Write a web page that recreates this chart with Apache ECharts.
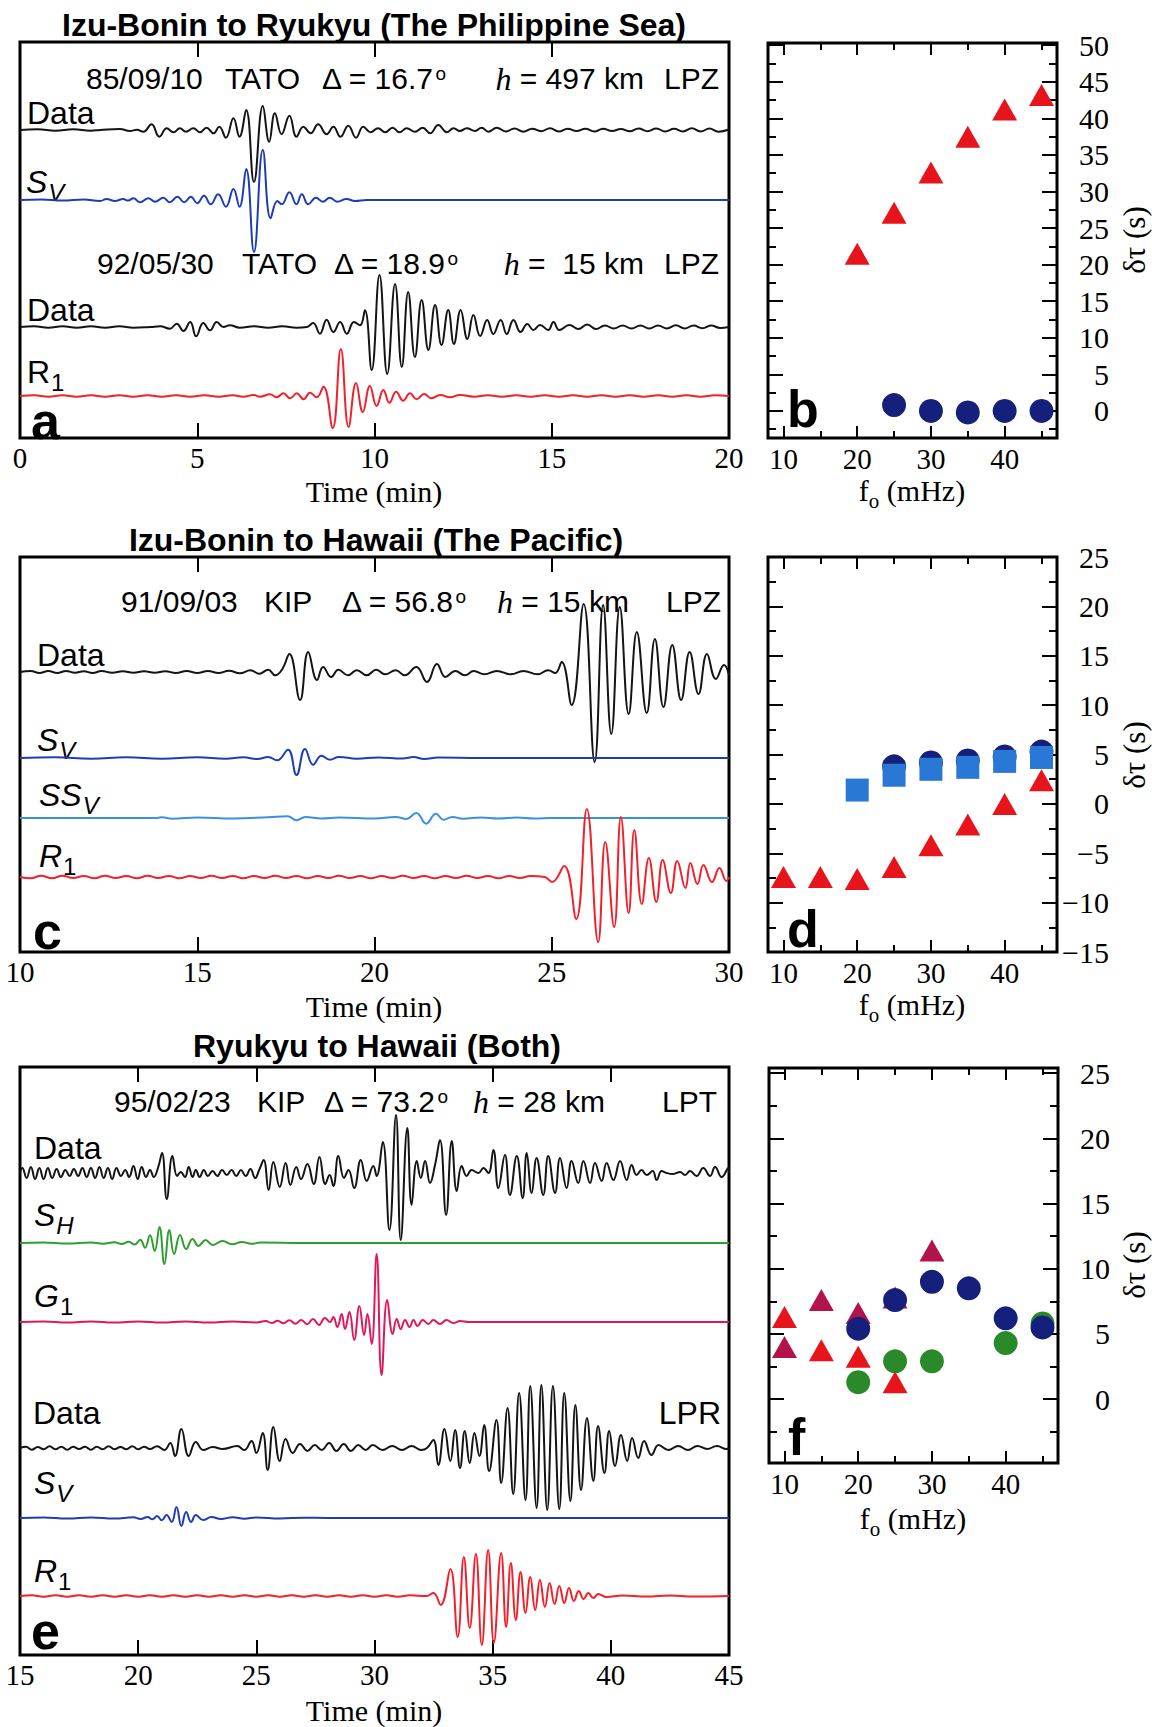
<!DOCTYPE html>
<html>
<head>
<meta charset="utf-8">
<script src="https://cdn.jsdelivr.net/npm/echarts@6/dist/echarts.min.js"></script>
<style>
  html, body { margin: 0; padding: 0; background: #fff; }
  #chart { width: 1152px; height: 1727px; }
</style>
</head>
<body>
<div id="chart"></div>
<script>
// ---------------- Axis tick values ----------------
const timeTicksA = [0, 5, 10, 15, 20];
const timeTicksC = [10, 15, 20, 25, 30];
const timeTicksE = [15, 20, 25, 30, 35, 40, 45];
const freqTicks = [10, 20, 30, 40];
const freqMinorTicks = [15, 25, 35, 45];
const delayTicksB = [0, 5, 10, 15, 20, 25, 30, 35, 40, 45, 50];
const delayMinorB = [-2.5, 2.5, 7.5, 12.5, 17.5, 22.5, 27.5, 32.5, 37.5, 42.5, 47.5];
const delayTicksD = [-15, -10, -5, 0, 5, 10, 15, 20, 25];
const delayMinorD = [-12.5, -7.5, -2.5, 2.5, 7.5, 12.5, 17.5, 22.5];
const delayTicksF = [-5, 0, 5, 10, 15, 20, 25];
const delayMinorF = [-2.5, 2.5, 7.5, 12.5, 17.5, 22.5];

// ---------------- Seismograms: [time (min), amplitude] turning points ----------------
// Izu-Bonin to Ryukyu, 85/09/10 TATO LPZ
const traceA_data1 = [[0,0],[0.5,0.7],[1.0,-0.7],[1.5,0.7],[2.0,-0.7],[2.26,0],[2.82,1],[3.1,-1],[3.3,0.3],[3.48,-1.7],[3.71,5.7],[3.93,-6.7],[4.14,1.7],[4.33,-2.3],[4.51,1.7],[4.68,-1.7],[4.89,1.7],[5.08,-2.3],[5.26,2.3],[5.46,-3.3],[5.62,3.3],[5.81,-7.7],[6.02,11.7],[6.19,-6.7],[6.38,20],[6.6,-52],[6.85,24],[7.03,-11.7],[7.19,16.7],[7.38,-4.3],[7.6,14.3],[7.8,-6.7],[7.99,3.3],[8.2,-3.3],[8.41,5.7],[8.65,-4.3],[8.84,3.3],[9.04,-6.7],[9.26,4.3],[9.48,-7.7],[9.68,3.3],[9.89,-2.3],[10.1,1.7],[10.3,-2.3],[10.51,2.3],[10.7,-2.3],[10.91,1.7],[11.14,-1.7],[11.36,2.3],[11.57,-3.3],[11.8,5],[12.04,-2.3],[12.23,1.7],[12.41,-1],[12.6,1.7],[12.84,-1],[13.02,2.3],[13.21,-1.7],[13.45,2.3],[13.7,-1.5],[13.95,1.5],[14.2,-1.7],[14.45,1.3],[14.7,-1.2],[14.95,1.7],[15.2,-1.5],[15.45,1.3],[15.7,-1],[15.95,1.2],[16.2,-1.5],[16.45,1.3],[16.7,-1],[16.95,1],[17.2,-1.3],[17.45,1.5],[17.7,-1.2],[17.95,1.5],[18.2,-1.5],[18.45,1.2],[18.7,-1.5],[18.95,1.7],[19.2,-1.5],[19.45,1.5],[19.7,-1.7],[20,0.5]];
const traceA_sv = [[0,0],[0.6,0.5],[1.2,-0.5],[1.8,0.5],[2.26,-1],[2.44,1],[2.68,-1],[2.91,1],[3.05,-0.5],[3.2,1.7],[3.39,-2.3],[3.62,1.7],[3.81,-1.7],[4.04,2.3],[4.23,-2.3],[4.44,3.3],[4.63,-2.3],[4.82,3.3],[5.0,-3.3],[5.19,4.3],[5.38,-4.3],[5.59,5.7],[5.81,-6.7],[6.02,11],[6.19,-6.7],[6.38,31],[6.6,-52],[6.85,50],[7.07,-18.3],[7.26,-1],[7.38,-4.3],[7.6,7.7],[7.8,-4.3],[7.95,5.7],[8.13,-4.3],[8.35,2.3],[8.54,-1.7],[8.74,2.3],[8.95,-1.7],[9.21,1],[9.45,-1],[9.78,0],[20,0]];
// 92/05/30 TATO LPZ
const traceA_data2 = [[0,0],[0.4,0.7],[0.8,-0.7],[1.2,0.7],[1.6,-0.7],[2.0,0.7],[2.4,-0.7],[2.8,0.7],[3.2,-0.7],[3.67,0],[3.95,0.7],[4.23,-1.7],[4.42,3.3],[4.61,-4],[4.8,5],[4.97,-9.3],[5.17,4],[5.36,-3.3],[5.55,5],[5.74,0],[5.92,1.7],[6.2,-0.7],[6.6,0.7],[7.0,-0.7],[7.4,0.7],[7.8,-0.7],[8.09,0],[8.27,4],[8.46,-6.7],[8.65,7.3],[8.84,-5],[9.03,5],[9.22,-6.7],[9.42,5],[9.59,1.7],[9.73,16.7],[9.92,-43],[10.14,52],[10.36,-47],[10.58,43],[10.77,-40],[10.95,35],[11.14,-30],[11.33,27],[11.52,-23],[11.71,22],[11.89,-18],[12.08,17],[12.24,-17],[12.43,17],[12.62,-12],[12.79,12],[12.98,-9],[13.18,7],[13.35,-7],[13.56,7],[13.73,-7],[13.92,7],[14.12,-5],[14.31,3],[14.48,-3],[14.67,2],[14.9,-3],[15.05,5],[15.21,-3],[15.5,2],[15.75,-2],[16.0,2.5],[16.25,-2],[16.5,1.5],[16.75,-1.5],[17.0,1.5],[17.25,-1.5],[17.5,1.5],[17.75,-1.5],[18.0,1.5],[18.25,-1.5],[18.5,1.7],[18.75,-1.5],[19.0,1.5],[19.25,-1.2],[19.5,1.5],[19.75,-1],[20,0]];
const traceA_r1 = [[0,0],[0.4,0.7],[0.8,-0.7],[1.2,0.7],[1.6,-0.7],[2.0,0.7],[2.4,-0.7],[2.8,0.7],[3.2,-0.7],[3.6,0.7],[4.0,-0.7],[4.4,0.7],[4.8,-0.7],[5.2,0.7],[5.6,-0.7],[6.0,0.7],[6.3,-0.7],[6.59,1],[6.77,-0.7],[7.05,1.7],[7.24,-1.3],[7.43,2.7],[7.62,-2.3],[7.81,2.7],[8.0,-3.3],[8.18,3.3],[8.37,-1.3],[8.56,9.3],[8.82,-32],[9.05,47],[9.27,-31],[9.48,13],[9.67,-16],[9.87,10],[10.06,-10],[10.25,6],[10.42,-6.7],[10.61,4.3],[10.81,-4.7],[11.0,2.7],[11.19,-3.3],[11.4,2],[11.61,-2.3],[11.85,1],[12.13,-1.3],[12.41,1],[12.8,-0.7],[13.2,0.7],[13.6,-0.7],[14.0,0.7],[14.4,-0.7],[14.8,0.7],[15.2,-0.7],[15.6,0.7],[16.0,-0.7],[16.4,0.7],[16.8,-0.7],[17.2,0.7],[17.6,-0.7],[18.0,0.7],[18.4,-0.7],[18.8,0.7],[19.2,-0.7],[19.6,0.7],[20,0]];

// Izu-Bonin to Hawaii, 91/09/03 KIP LPZ
const traceC_data = [[10,0],[10.3,1],[10.55,-1],[10.8,1],[11.05,-1],[11.3,1],[11.55,-0.7],[11.8,0.7],[12.05,-1],[12.3,1],[12.6,-0.7],[12.9,0.7],[13.2,-0.7],[13.5,0.7],[13.8,-0.7],[14.1,0.7],[14.4,-1],[14.7,1],[15,-1],[15.3,1],[15.6,-1],[15.9,1.3],[16.2,-1.3],[16.5,1.7],[16.75,-1.7],[17.0,2.3],[17.2,-3.3],[17.4,3],[17.6,18],[17.9,-28],[18.13,20],[18.38,-8],[18.55,5],[18.78,-5],[18.98,2.3],[19.25,-3.3],[19.5,1.7],[19.78,-3.3],[20.05,2.3],[20.3,-2.3],[20.6,1.7],[20.85,-3.3],[21.18,5],[21.48,-10],[21.76,8],[22.0,-5],[22.28,1],[22.55,-3.3],[22.8,1],[23.1,-2.3],[23.45,1],[23.85,-2.3],[24.2,1],[24.6,-2.3],[24.9,1.7],[25.1,-1],[25.28,10],[25.56,-33],[25.9,68],[26.21,-90],[26.45,67],[26.68,-62],[26.92,65],[27.17,-42],[27.4,40],[27.68,-41],[27.91,33],[28.15,-35],[28.4,27],[28.65,-28],[28.89,20],[29.14,-22],[29.38,18],[29.63,-7],[29.86,7],[30,-3]];
const traceC_sv = [[10,0],[11,0.7],[12,-0.7],[13,0.7],[14,-0.7],[15,0.7],[15.8,-0.7],[16.3,0.7],[16.7,-1],[17.0,1],[17.25,-2.3],[17.56,8.3],[17.8,-17],[18.04,9],[18.27,-6.7],[18.5,2.3],[18.74,-1.7],[19.0,1],[19.5,-0.7],[20.1,0.5],[20.8,-0.5],[21.1,1],[21.4,-1],[21.8,0.5],[23,0],[30,0]];
const traceC_ssv = [[10,0],[13.8,0],[14.0,0.7],[14.3,-0.7],[15,0.5],[16,-0.5],[17,0.7],[17.55,1.7],[17.8,-2.3],[18.05,1],[18.5,-0.5],[19,0.5],[20,-0.5],[20.6,1],[20.9,-1],[21.18,5],[21.46,-5.7],[21.73,4.3],[21.95,-1.7],[22.2,1],[22.5,-0.7],[23,0.5],[23.5,-0.5],[24,0.5],[24.5,-0.5],[25,0],[30,0]];
const traceC_r1 = [[10,0],[10.3,-1.3],[10.6,1.3],[10.9,-1.3],[11.2,1.3],[11.5,-1],[11.8,1],[12.1,-1.3],[12.4,1.3],[12.7,-1],[13,1],[13.3,-1.3],[13.6,1.3],[13.9,-1],[14.2,1],[14.5,-1.3],[14.8,1],[15.1,-1],[15.4,1.3],[15.7,-1],[16,1],[16.3,-1.3],[16.6,1],[16.9,-1],[17.2,1.3],[17.5,-1],[17.8,1],[18.1,-1.3],[18.4,1],[18.7,-1],[19,1.3],[19.3,-1],[19.6,1],[19.9,-1.3],[20.2,1],[20.5,-1],[20.8,1.3],[21.1,-1],[21.4,1],[21.7,-1.3],[22,1],[22.3,-1],[22.6,1.3],[22.9,-1],[23.2,1],[23.5,-1.3],[23.8,1],[24.1,-1],[24.4,1],[24.8,0],[25.01,-5],[25.35,11],[25.69,-42],[25.99,68],[26.31,-65],[26.51,35],[26.76,-50],[26.95,60],[27.17,-36],[27.33,47],[27.54,-27],[27.74,19],[27.95,-25],[28.13,17],[28.36,-16],[28.54,16],[28.77,-11],[28.91,14],[29.11,-7],[29.28,12],[29.52,-5],[29.73,9],[29.93,-4],[30,0]];

// Ryukyu to Hawaii, 95/02/23 KIP LPT
const traceE_dataT = [[15.0,0],[15.1,5],[15.28,-5],[15.46,6],[15.64,-6],[15.82,5],[16.0,-6],[16.18,5],[16.36,-5],[16.55,4],[16.73,-4],[16.92,3],[17.1,-3],[17.28,4],[17.46,-3],[17.64,5],[17.82,-4],[18.0,5],[18.18,-5],[18.36,6],[18.54,-5],[18.72,5],[18.9,-6],[19.08,5],[19.27,-3],[19.45,3],[19.62,-4],[19.8,7],[19.98,-6],[20.15,6],[20.33,-4],[20.5,3],[20.66,-4],[20.85,6],[21.01,20],[21.21,-26],[21.45,17],[21.65,-3],[21.8,1],[21.98,-4],[22.14,6],[22.3,-4],[22.44,3],[22.6,-4],[22.78,3],[22.95,-3],[23.15,2],[23.35,-3],[23.55,3],[23.75,-2],[23.95,3],[24.15,-3],[24.35,3],[24.55,-3],[24.75,4],[24.95,-5],[25.12,3],[25.31,13],[25.52,-17],[25.72,11],[25.99,-14],[26.24,10],[26.44,-12],[26.69,6],[26.89,-6],[27.16,9],[27.43,-11],[27.67,16],[27.92,-11],[28.1,-2],[28.26,-13],[28.47,17],[28.71,-5],[28.9,3],[29.14,-15],[29.42,13],[29.67,-8],[29.95,7],[30.09,-3],[30.35,31],[30.63,-57],[30.91,58],[31.11,-67],[31.39,45],[31.57,-32],[31.79,12],[31.96,-5],[32.14,12],[32.35,-10],[32.56,8],[32.77,33],[33.03,-42],[33.27,32],[33.48,-18],[33.69,7],[33.9,-3],[34.11,3],[34.4,0],[34.61,5],[34.82,0],[35.03,23],[35.24,-15],[35.52,18],[35.73,-22],[36.02,17],[36.27,-25],[36.44,20],[36.65,-20],[36.86,15],[37.14,-22],[37.35,17],[37.64,-20],[37.85,15],[38.13,-15],[38.34,12],[38.62,-10],[38.84,12],[39.12,-10],[39.33,10],[39.61,-8],[39.82,10],[40.11,-7],[40.39,12],[40.67,-7],[40.88,8],[41.09,-2],[41.3,3],[41.52,-2],[41.77,2],[41.94,-7],[42.15,2],[42.36,0],[42.64,-1],[42.93,1],[43.14,-2],[43.35,2],[43.63,-3],[43.91,5],[44.2,-3],[44.41,6],[44.69,-4],[44.97,5],[45,0]];
const traceE_sh = [[15,0],[16,0.5],[17,-0.5],[18,0.5],[18.5,-0.7],[19,0.7],[19.3,-1],[19.6,1.3],[19.85,-1.5],[20.09,3.3],[20.29,-4.7],[20.5,7.7],[20.7,-8],[20.9,16],[21.11,-21],[21.32,13],[21.52,-11],[21.77,8],[22.03,-6],[22.3,4],[22.55,-3],[22.85,3],[23.16,-2],[23.57,2],[23.98,-1.3],[24.39,1],[24.8,-0.7],[25.2,0.5],[27,0],[45,0]];
const traceE_g1 = [[15,0],[16,0.5],[17,-0.5],[18,0.5],[19,-0.5],[20,0.5],[21,-0.5],[22,0.5],[23,-0.5],[24,0.5],[25,-0.5],[25.4,1],[25.65,-1],[25.9,1.3],[26.15,-1.3],[26.4,1.7],[26.65,-1.7],[26.9,2],[27.15,-2.3],[27.4,3],[27.65,-3],[27.9,4],[28.12,0],[28.26,5],[28.43,-5],[28.61,8],[28.75,-7],[28.94,10],[29.14,-18],[29.36,16],[29.56,-13],[29.7,8],[29.88,-22],[30.09,68],[30.3,-53],[30.54,22],[30.77,-12],[30.94,3],[31.11,-7],[31.29,2],[31.48,-5],[31.65,2],[31.82,-4],[32.04,2],[32.28,-2],[32.49,2],[32.77,-2],[33.05,2],[33.34,-1],[33.62,1],[34,0],[45,0]];
// 95/02/23 KIP LPR
const traceE_dataR = [[15,0],[15.25,1.3],[15.5,-1.7],[15.75,1],[16,-1.3],[16.25,1.7],[16.5,-1.3],[16.75,1.3],[17,-1.7],[17.25,1.3],[17.5,-1],[17.75,1.3],[18,-1.7],[18.25,1.3],[18.5,-1.3],[18.75,1.7],[19,-1.3],[19.25,1],[19.5,-1.3],[19.75,1.7],[20,-1.3],[20.25,1.3],[20.5,-1],[20.8,1.7],[21.11,-2],[21.36,5],[21.56,-8],[21.83,19],[22.14,-8],[22.44,6],[22.75,-2],[23.16,1],[23.57,-1],[24.19,2],[24.49,-2],[24.8,7],[25.0,-5],[25.27,15],[25.48,-22],[25.72,21],[25.99,-13],[26.24,9],[26.54,-5],[26.85,4],[27.16,-3],[27.47,3],[27.77,-2],[28.08,5],[28.39,-3],[28.7,4],[29.0,-3],[29.31,3],[29.62,-2],[29.93,3],[30.34,-2],[30.75,2],[31.16,-2],[31.57,2],[31.98,-2],[32.22,0],[32.49,8],[32.7,-17],[32.96,19],[33.21,-13],[33.41,18],[33.62,-20],[33.82,17],[34.03,-15],[34.23,15],[34.44,-8],[34.64,23],[34.85,-23],[35.16,28],[35.36,-35],[35.63,40],[35.87,-46],[36.12,55],[36.39,-52],[36.59,62],[36.86,-60],[37.06,63],[37.31,-62],[37.55,62],[37.82,-61],[38.03,55],[38.29,-53],[38.5,43],[38.74,-42],[38.99,30],[39.26,-33],[39.46,22],[39.73,-25],[39.93,17],[40.18,-18],[40.43,13],[40.69,-13],[40.9,10],[41.16,-10],[41.41,7],[41.72,-7],[42.02,3],[42.43,-2],[42.85,2],[43.26,-2],[43.66,2],[44.08,-1],[44.49,2],[44.9,-1],[45,0]];
const traceE_sv = [[15,0],[16,0.5],[17,-0.5],[18,0.5],[19,-0.5],[19.8,0.7],[20.1,-1],[20.4,1],[20.6,-1.3],[20.8,2],[21.0,-2.3],[21.2,3],[21.42,-4],[21.62,11],[21.83,-8],[22.03,6],[22.24,-4],[22.44,3],[22.75,-2],[23.1,1],[23.5,-1],[24.0,0.7],[24.5,-0.7],[25,0.5],[26,-0.5],[27,0.3],[28,0],[45,0]];
const traceE_r1 = [[15,0],[15.5,0.7],[16,-0.7],[16.5,0.7],[17,-0.7],[17.5,0.7],[18,-0.7],[18.5,0.7],[19,-0.7],[19.5,0.7],[20,-0.7],[20.5,0.7],[21,-0.7],[21.5,0.7],[22,-0.7],[22.5,0.7],[23,-0.7],[23.5,0.7],[24,-0.7],[24.5,0.7],[25,-0.7],[25.5,0.7],[26,-0.7],[26.5,0.7],[27,-0.7],[27.5,0.7],[28,-0.7],[28.5,0.7],[29,-0.7],[29.5,0.7],[30,-0.7],[30.5,0.7],[31,-0.7],[31.5,0.7],[32.2,0],[32.49,3],[32.8,-9],[33.21,27],[33.52,-41],[33.78,39],[34.03,-32],[34.29,42],[34.54,-49],[34.81,46],[35.05,-47],[35.36,43],[35.57,-31],[35.77,33],[35.98,-24],[36.18,24],[36.39,-17],[36.59,19],[36.8,-14],[37.0,16],[37.21,-11],[37.41,13],[37.62,-8],[37.82,10],[38.03,-7],[38.23,8],[38.44,-5],[38.64,5],[38.85,-3],[39.05,3],[39.26,-2],[39.46,2],[39.8,-1],[40.5,0.5],[41.5,-0.5],[42.5,0.5],[43.5,-0.5],[45,0]];

// ---------------- Delay measurements: f0 (mHz) vs delta-tau (s) ----------------
const freqB_R1 = [20, 25, 30, 35, 40, 45];
const delayB_R1 = [21.5, 27.1, 32.6, 37.5, 41.2, 43.2];
const freqB_SV = [25, 30, 35, 40, 45];
const delayB_SV = [0.8, 0, -0.2, 0, 0];

const freqD_R1 = [10, 15, 20, 25, 30, 35, 40, 45];
const delayD_R1 = [-7.4, -7.4, -7.6, -6.4, -4.2, -2.1, 0, 2.4];
const freqD_SV = [25, 30, 35, 40, 45];
const delayD_SV = [3.8, 4.2, 4.4, 4.8, 5.3];
const freqD_SSV = [20, 25, 30, 35, 40, 45];
const delayD_SSV = [1.4, 2.9, 3.5, 3.7, 4.3, 4.7];

const freqF_G1 = [10, 15, 20, 25, 30];
const delayF_G1 = [4.0, 7.6, 6.6, 7.8, 11.4];
const freqF_SH = [20, 25, 30, 40, 45];
const delayF_SH = [1.3, 2.9, 2.9, 4.3, 5.8];
const freqF_SV = [20, 25, 30, 35, 40, 45];
const delayF_SV = [5.4, 7.6, 9.0, 8.5, 6.2, 5.5];
const freqF_R1 = [10, 15, 20, 25];
const delayF_R1 = [6.3, 3.75, 3.25, 1.3];

// ---------------- Layout ----------------
const SANS = 'Liberation Sans';
const SERIF = 'Liberation Serif';
const boxes = {
  a: { left: 20, top: 42, width: 709, height: 396 },
  b: { left: 768, top: 43, width: 289, height: 395 },
  c: { left: 20, top: 557, width: 709, height: 395 },
  d: { left: 768, top: 557, width: 289, height: 395 },
  e: { left: 20, top: 1067, width: 709, height: 588 },
  f: { left: 769, top: 1068, width: 289, height: 395 }
};
const COLORS = {
  data: '#141414', sv: '#1e3db5', ssv: '#3a8fe6', r1: '#f2202a', sh: '#2e9e2e', g1: '#e0185a',
  tri: '#e8141c', navy: '#151f7c', square: '#2a78d6', green: '#2a8a2a', crimson: '#b3134b'
};

const grids = [], xAxes = [], yAxes = [], series = [], graphics = [];

function addGrid(box) {
  grids.push({ left: box.left, top: box.top, width: box.width, height: box.height,
    show: true, borderColor: '#000', borderWidth: 3, backgroundColor: 'transparent',
    containLabel: false, outerBoundsMode: 'none' });
  return grids.length - 1;
}
// typographic minus for negative tick labels
const minusFmt = v => String(v).replace('-', '\u2212');
function tickAxis(kind, gi, pos, min, max, ticks, len, labels) {
  const ax = {
    type: 'value', gridIndex: gi, position: pos, min: min, max: max,
    axisLine: { show: false, onZero: false }, splitLine: { show: false },
    axisTick: { show: true, inside: true, length: len, customValues: ticks, lineStyle: { color: '#000', width: 2 } },
    axisLabel: labels ? Object.assign({ show: true, customValues: ticks, color: '#000',
      fontFamily: SERIF, fontSize: 29, formatter: minusFmt }, labels) : { show: false }
  };
  (kind === 'x' ? xAxes : yAxes).push(ax);
  return (kind === 'x' ? xAxes : yAxes).length - 1;
}

function wavePanel(box, tmin, tmax, ticks) {
  const gi = addGrid(box);
  const inner = ticks.filter(v => v > tmin && v < tmax);
  const xi = tickAxis('x', gi, 'bottom', tmin, tmax, ticks, 15, { margin: 5 });
  xAxes[xi].axisTick.customValues = inner;
  tickAxis('x', gi, 'top', tmin, tmax, inner, 15, null);
  yAxes.push({ type: 'value', gridIndex: gi, min: 0, max: box.height, show: false });
  const yi = yAxes.length - 1;
  return { xi, yi, H: box.height };
}
function scatterPanel(box, ymin, ymax, yMajor, yMinor) {
  const gi = addGrid(box);
  const xmin = 7.9, xmax = 47.1;
  const xi = tickAxis('x', gi, 'bottom', xmin, xmax, freqTicks, 12, { margin: 6 });
  tickAxis('x', gi, 'bottom', xmin, xmax, freqMinorTicks, 7, null);
  tickAxis('x', gi, 'top', xmin, xmax, freqTicks, 12, null);
  tickAxis('x', gi, 'top', xmin, xmax, freqMinorTicks, 7, null);
  const yi = tickAxis('y', gi, 'left', ymin, ymax, yMajor, 15, null);
  tickAxis('y', gi, 'left', ymin, ymax, yMinor, 8, null);
  tickAxis('y', gi, 'right', ymin, ymax, yMajor, 15, { margin: 52, align: 'right', fontSize: 30 });
  tickAxis('y', gi, 'right', ymin, ymax, yMinor, 8, null);
  return { xi, yi };
}

function wave(ax, trace, base, color) {
  series.push({ type: 'line', xAxisIndex: ax.xi, yAxisIndex: ax.yi, silent: true,
    data: trace.map(p => [p[0], ax.H - base + p[1]]),
    showSymbol: false, symbol: 'none', smooth: 0.45, clip: true,
    lineStyle: { color: color, width: 2 } });
}
function dots(ax, xs, ys, symbol, size, color) {
  series.push({ type: 'scatter', xAxisIndex: ax.xi, yAxisIndex: ax.yi, silent: true,
    symbol: symbol, symbolSize: size, itemStyle: { color: color, opacity: 1 },
    data: xs.map((x, i) => [x, ys[i]]) });
}

// ---------------- Text helpers ----------------
function txt(x, y, text, o) {
  o = o || {};
  const style = { text: text, fill: '#000', fontFamily: o.family || SANS, fontSize: o.size || 32,
    fontWeight: o.weight || 'normal', fontStyle: o.style || 'normal',
    align: o.align || 'left', textAlign: o.align || 'left',
    verticalAlign: 'middle', textVerticalAlign: 'middle', rich: o.rich };
  if (o.lineHeight) style.lineHeight = o.lineHeight;
  graphics.push({ type: 'text', x: x, y: y, rotation: o.rotation || 0, silent: true, style: style });
}
function panelLetter(x, y, ch) {
  txt(x, y, ch, { weight: 'bold', size: 52, lineHeight: 38 });
}
const richSub = {
  m: { fontFamily: SANS, fontSize: 32, fontStyle: 'italic', lineHeight: 36, verticalAlign: 'top', fill: '#000' },
  u: { fontFamily: SANS, fontSize: 32, fontStyle: 'normal', lineHeight: 36, verticalAlign: 'top', fill: '#000' },
  s: { fontFamily: SANS, fontSize: 24, fontStyle: 'italic', lineHeight: 24, padding: [14, 0, 0, 1], verticalAlign: 'top', fill: '#000' },
  n: { fontFamily: SANS, fontSize: 24, fontStyle: 'normal', lineHeight: 24, padding: [14, 0, 0, 1], verticalAlign: 'top', fill: '#000' }
};
const richHead = {
  t: { fontFamily: SANS, fontSize: 30, lineHeight: 34, verticalAlign: 'top', fill: '#000' },
  p: { fontFamily: SANS, fontSize: 19, lineHeight: 19, padding: [1, 0, 0, 1], verticalAlign: 'top', fill: '#000' },
  h: { fontFamily: SERIF, fontSize: 32, fontStyle: 'italic', lineHeight: 34, verticalAlign: 'top', fill: '#000' }
};
const richFreq = {
  m: { fontFamily: SERIF, fontSize: 30, lineHeight: 34, verticalAlign: 'top', fill: '#000' },
  s: { fontFamily: SERIF, fontSize: 21, lineHeight: 21, padding: [15, 0, 0, 0], verticalAlign: 'top', fill: '#000' }
};
// each segment: [x, rich text, align]
function header(y, segs) {
  segs.forEach(s => txt(s[0], y, s[1], { rich: richHead, align: s[2] || 'left' }));
}

// ---------------- Panels ----------------
const axA = wavePanel(boxes.a, 0, 20, timeTicksA);
wave(axA, traceA_data1, 88, COLORS.data);
wave(axA, traceA_sv, 158, COLORS.sv);
wave(axA, traceA_data2, 285, COLORS.data);
wave(axA, traceA_r1, 354, COLORS.r1);

const axB = scatterPanel(boxes.b, -3.7, 50.3, delayTicksB, delayMinorB);
dots(axB, freqB_R1, delayB_R1, 'triangle', [25, 22], COLORS.tri);
dots(axB, freqB_SV, delayB_SV, 'circle', 24, COLORS.navy);

const axC = wavePanel(boxes.c, 10, 30, timeTicksC);
wave(axC, traceC_data, 115, COLORS.data);
wave(axC, traceC_sv, 201, COLORS.sv);
wave(axC, traceC_ssv, 261, COLORS.ssv);
wave(axC, traceC_r1, 320, COLORS.r1);

const axD = scatterPanel(boxes.d, -15, 25, delayTicksD, delayMinorD);
dots(axD, freqD_R1, delayD_R1, 'triangle', [25, 22], COLORS.tri);
dots(axD, freqD_SV, delayD_SV, 'circle', 24, COLORS.navy);
dots(axD, freqD_SSV, delayD_SSV, 'rect', 23, COLORS.square);

const axE = wavePanel(boxes.e, 15, 45, timeTicksE);
wave(axE, traceE_dataT, 106, COLORS.data);
wave(axE, traceE_sh, 176, COLORS.sh);
wave(axE, traceE_g1, 255, COLORS.g1);
wave(axE, traceE_dataR, 381, COLORS.data);
wave(axE, traceE_sv, 451, COLORS.sv);
wave(axE, traceE_r1, 529, COLORS.r1);

const axF = scatterPanel(boxes.f, -4.9, 25.4, delayTicksF, delayMinorF);
dots(axF, freqF_G1, delayF_G1, 'triangle', [25, 22], COLORS.crimson);
dots(axF, freqF_SH, delayF_SH, 'circle', 24, COLORS.green);
dots(axF, freqF_SV, delayF_SV, 'circle', 24, COLORS.navy);
dots(axF, freqF_R1, delayF_R1, 'triangle', [25, 22], COLORS.tri);

// ---------------- Titles, trace labels, axis names ----------------
txt(374, 25, 'Izu-Bonin to Ryukyu (The Philippine Sea)', { weight: 'bold', size: 32, align: 'center' });
txt(376, 540, 'Izu-Bonin to Hawaii (The Pacific)', { weight: 'bold', size: 32, align: 'center' });
txt(377, 1046, 'Ryukyu to Hawaii (Both)', { weight: 'bold', size: 32, align: 'center' });

header(80, [[86, '{t|85/09/10}'], [225, '{t|TATO}'], [322, '{t|\u0394 = 16.7}{p|o}'], [644, '{h|h}{t| = 497 km}', 'right'], [664, '{t|LPZ}']]);
header(265, [[97, '{t|92/05/30}'], [242, '{t|TATO}'], [334, '{t|\u0394 = 18.9}{p|o}'], [644, '{h|h}{t| = \u00a015 km}', 'right'], [664, '{t|LPZ}']]);
header(603, [[121, '{t|91/09/03}'], [264, '{t|KIP}'], [342, '{t|\u0394 = 56.8}{p|o}'], [497, '{h|h}{t| = 15 km}'], [666, '{t|LPZ}']]);
header(1103, [[114, '{t|95/02/23}'], [257, '{t|KIP}'], [324, '{t|\u0394 = 73.2}{p|o}'], [473, '{h|h}{t| = 28 km}'], [662, '{t|LPT}']]);

txt(27, 113, 'Data');
txt(26, 184, '{m|S}{s|V}', { rich: richSub });
txt(27, 310, 'Data');
txt(27, 374, '{u|R}{n|1}', { rich: richSub });
panelLetter(31, 421, 'a');

txt(37, 655, 'Data');
txt(37, 742, '{m|S}{s|V}', { rich: richSub });
txt(39, 797, '{m|SS}{s|V}', { rich: richSub });
txt(39, 858, '{m|R}{n|1}', { rich: richSub });
panelLetter(33, 931, 'c');

txt(34, 1148, 'Data');
txt(34, 1217, '{m|S}{s|H}', { rich: richSub });
txt(34, 1298, '{m|G}{n|1}', { rich: richSub });
txt(33, 1413, 'Data');
txt(721, 1413, 'LPR', { align: 'right' });
txt(34, 1485, '{m|S}{s|V}', { rich: richSub });
txt(34, 1573, '{m|R}{n|1}', { rich: richSub });
panelLetter(31, 1631, 'e');

panelLetter(787, 409, 'b');
panelLetter(787, 929, 'd');
panelLetter(788, 1437, 'f');

txt(374, 491, 'Time (min)', { family: SERIF, size: 30, align: 'center' });
txt(374, 1006, 'Time (min)', { family: SERIF, size: 30, align: 'center' });
txt(374, 1710, 'Time (min)', { family: SERIF, size: 30, align: 'center' });

txt(912, 492, '{m|f}{s|o}{m| (mHz)}', { rich: richFreq, align: 'center' });
txt(912, 1006, '{m|f}{s|o}{m| (mHz)}', { rich: richFreq, align: 'center' });
txt(913, 1520, '{m|f}{s|o}{m| (mHz)}', { rich: richFreq, align: 'center' });

txt(1134, 240, '\u03b4\u03c4 (s)', { family: SERIF, size: 31, align: 'center', rotation: Math.PI / 2 });
txt(1134, 755, '\u03b4\u03c4 (s)', { family: SERIF, size: 31, align: 'center', rotation: Math.PI / 2 });
txt(1134, 1265, '\u03b4\u03c4 (s)', { family: SERIF, size: 31, align: 'center', rotation: Math.PI / 2 });

const chart = echarts.init(document.getElementById('chart'), null, { renderer: 'svg', width: 1152, height: 1727 });
chart.setOption({
  animation: false,
  backgroundColor: '#fff',
  grid: grids,
  xAxis: xAxes,
  yAxis: yAxes,
  series: series,
  graphic: { elements: graphics }
});
</script>
</body>
</html>
